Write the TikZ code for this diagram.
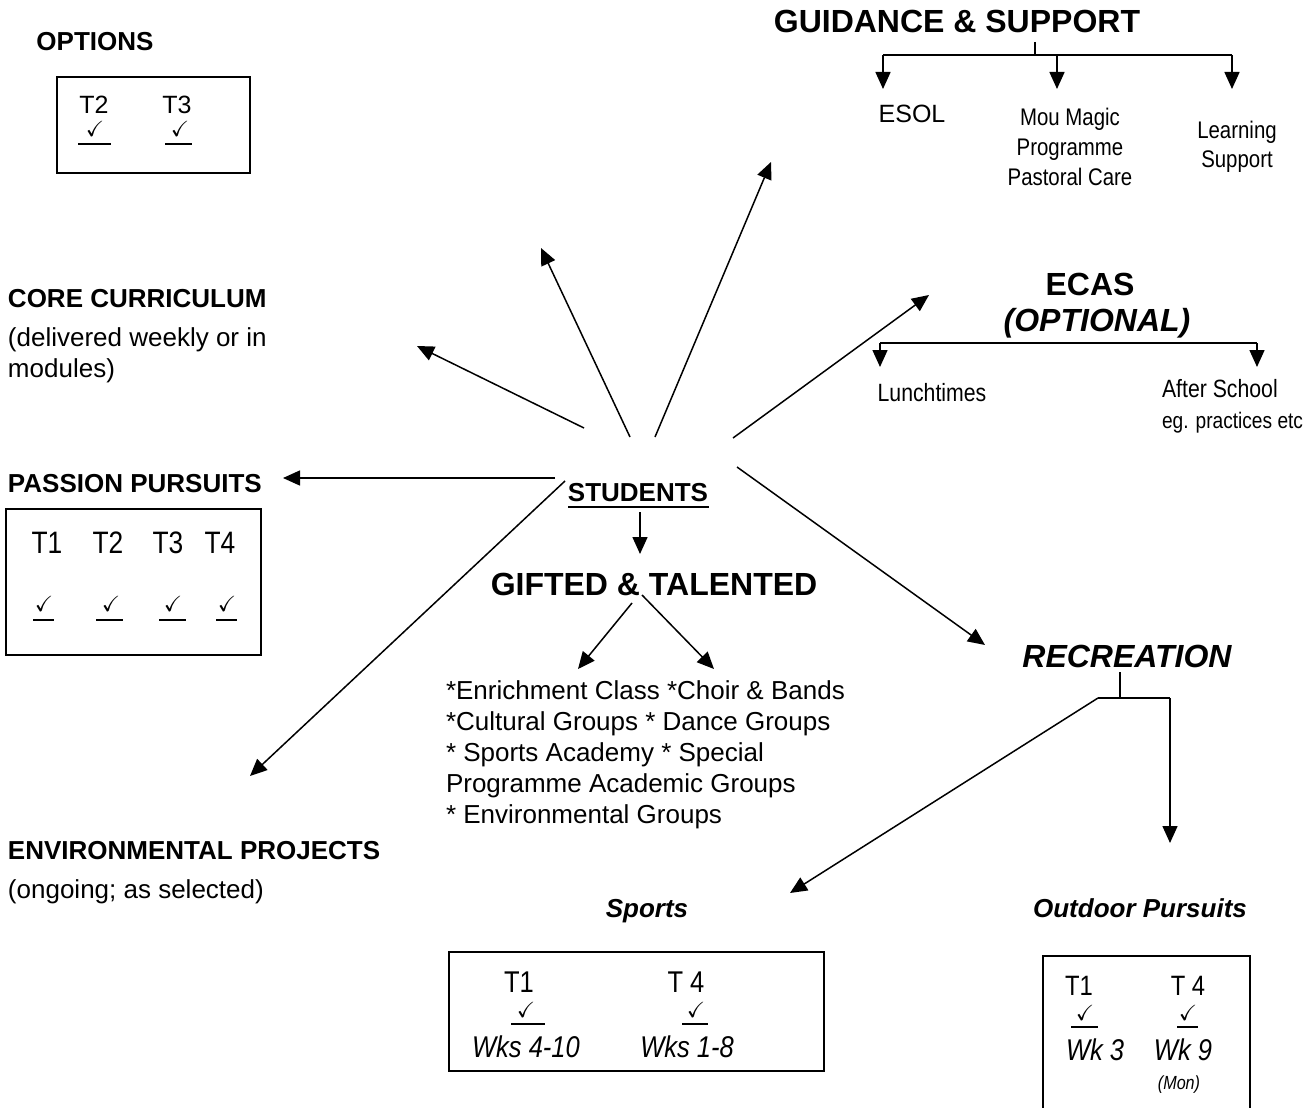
\documentclass[tikz,border=0pt]{standalone}
\usepackage{fontspec}
\usepackage{amssymb}
\setmainfont{Liberation Sans}
\newfontfamily\nar[FakeStretch=0.85]{Liberation Sans}
\usetikzlibrary{arrows.meta}
\newcommand\fsz[2]{\fontsize{#1}{#2}\selectfont}
\tikzset{
  lbl/.style={inner sep=0pt, outer sep=0pt},
  head/.style={lbl, font=\fsz{26}{31}\bfseries},
  bighead/.style={lbl, font=\fsz{32}{38}\bfseries},
  body/.style={lbl, font=\fsz{26}{31}, align=left},
  nbody/.style={lbl, font=\nar\fsz{24}{30}},
  tterm/.style={lbl, font=\nar\fsz{30}{36}},
  chk/.style={lbl, font=\fsz{22}{22}},
  conn/.style={line width=1.5pt, -{Triangle[length=17pt,width=15pt]}},
  plain/.style={line width=1.5pt},
  boxnode/.style={draw, line width=1.5pt, inner sep=0pt},
  uline/.style={line width=2pt},
}
\begin{document}
\begin{tikzpicture}[x=1pt,y=-1pt]
\clip (0,0) rectangle (1304,1108);
\fill[white] (0,0) rectangle (1304,1108);

% ---------- OPTIONS ----------
\node[head, anchor=base] (opt) at (95,51) {OPTIONS};
\node[boxnode, minimum width=193pt, minimum height=96pt] (optbox) at (153.5,125) {};
\node[lbl, font=\fsz{25}{30}, anchor=base] (optT2) at (94,113) {T2};
\node[lbl, font=\fsz{25}{30}, anchor=base] (optT3) at (177,113) {T3};
\node[chk] (optc2) at (95,129) {$\checkmark$};
\node[chk] (optc3) at (180,129) {$\checkmark$};
\draw[uline] (78,144) -- (111,144);
\draw[uline] (165,144) -- (192,144);

% ---------- GUIDANCE & SUPPORT ----------
\node[bighead, anchor=base] (guid) at (957,33) {GUIDANCE \& SUPPORT};
\coordinate (gstem) at (1035,42);
\coordinate (gj) at (1035,55);
\coordinate (gl) at (883,55);
\coordinate (gm) at (1057,55);
\coordinate (gr) at (1232,55);
\node[lbl, font=\fsz{25}{30}, anchor=base] (esol) at (912,122) {ESOL};
\node[nbody, align=center, anchor=base] (mou) at (1070,185) {Mou Magic\\Programme\\Pastoral Care};
\node[nbody, font=\nar\fsz{24}{29}, align=center, anchor=base] (learn) at (1237,167) {Learning\\Support};
\coordinate (esolt) at (883,89);
\coordinate (mout) at (1057,89);
\coordinate (learnt) at (1232,89);
\draw[plain] (gstem) -- (gj);
\draw[plain] (gl) -- (gr);
\draw[conn] (gl) -- (esolt);
\draw[conn] (gm) -- (mout);
\draw[conn] (gr) -- (learnt);

% ---------- CORE CURRICULUM ----------
\node[head, anchor=base west] (core) at (8,307) {CORE CURRICULUM};
\node[body, anchor=base west] (corex) at (8,377) {(delivered weekly or in\\modules)};

% ---------- ECAS ----------
\node[bighead, anchor=base] (ecas) at (1090,295) {ECAS};
\node[bighead, anchor=base, font=\fsz{32}{38}\bfseries\itshape] (ecasopt) at (1097,331) {(OPTIONAL)};
\coordinate (el) at (880,343);
\coordinate (er) at (1257,343);
\coordinate (elt) at (880,367);
\coordinate (ert) at (1257,367);
\draw[plain] (el) -- (er);
\draw[conn] (el) -- (elt);
\draw[conn] (er) -- (ert);
\node[nbody, font=\nar\fsz{25}{30}, anchor=base] (lunch) at (932,401) {Lunchtimes};
\node[nbody, font=\nar\fsz{25}{31}, align=left, anchor=base west] (after) at (1162,428) {After School\\{\fsz{22.5}{31}eg. practices etc}};

% ---------- PASSION PURSUITS ----------
\node[head, anchor=base west] (pass) at (8,492) {PASSION PURSUITS};
\node[boxnode, minimum width=255pt, minimum height=146pt] (passbox) at (133.5,582) {};
\node[tterm, font=\nar\fsz{31}{36}, anchor=base] (pT1) at (47,553) {T1};
\node[tterm, font=\nar\fsz{31}{36}, anchor=base] (pT2) at (108,553) {T2};
\node[tterm, font=\nar\fsz{31}{36}, anchor=base] (pT3) at (168,553) {T3};
\node[tterm, font=\nar\fsz{31}{36}, anchor=base] (pT4) at (220,553) {T4};
\node[chk] (pc1) at (44,604) {$\checkmark$};
\node[chk] (pc2) at (111,604) {$\checkmark$};
\node[chk] (pc3) at (173,604) {$\checkmark$};
\node[chk] (pc4) at (227,604) {$\checkmark$};
\draw[uline] (33,620) -- (54,620);
\draw[uline] (96,620) -- (123,620);
\draw[uline] (159,620) -- (186,620);
\draw[uline] (216,620) -- (237,620);

% ---------- STUDENTS ----------
\node[head, anchor=base] (stud) at (638,501) {STUDENTS};
\draw[line width=2.5pt] (568,507) -- (709,507);

\coordinate (s1) at (630,437);  \coordinate (t1) at (541,248);
\coordinate (s2) at (655,437);  \coordinate (t2) at (771,162);
\coordinate (s3) at (733,438);  \coordinate (t3) at (929,295);
\coordinate (s4) at (584,428);  \coordinate (t4) at (417,346);
\coordinate (s5) at (555,478);  \coordinate (t5) at (283,478);
\coordinate (s6) at (565,481);  \coordinate (t6) at (250,776);
\coordinate (s7) at (737,467);  \coordinate (t7) at (985,645);
\draw[conn] (s1) -- (t1);
\draw[conn] (s2) -- (t2);
\draw[conn] (s3) -- (t3);
\draw[conn] (s4) -- (t4);
\draw[conn] (s5) -- (t5);
\draw[conn] (s6) -- (t6);
\draw[conn] (s7) -- (t7);

% ---------- GIFTED & TALENTED ----------
\node[bighead, anchor=base] (gt) at (654,595) {GIFTED \& TALENTED};
\coordinate (s8) at (640,512); \coordinate (t8) at (640,554);
\draw[conn] (s8) -- (t8);
\coordinate (g1) at (632,603); \coordinate (g1t) at (578,669);
\coordinate (g2) at (642,595); \coordinate (g2t) at (714,669);
\draw[conn] (g1) -- (g1t);
\draw[conn] (g2) -- (g2t);
\node[body, anchor=base west] (gtlist) at (446,823) {*Enrichment Class *Choir \& Bands\\*Cultural Groups * Dance Groups\\* Sports Academy * Special\\Programme Academic Groups\\* Environmental Groups};

% ---------- ENVIRONMENTAL PROJECTS ----------
\node[head, anchor=base west] (env) at (8,859) {ENVIRONMENTAL PROJECTS};
\node[body, anchor=base west] (envx) at (8,898) {(ongoing; as selected)};

% ---------- RECREATION ----------
\node[bighead, anchor=base, font=\fsz{32}{38}\bfseries\itshape] (rec) at (1127,667) {RECREATION};
\coordinate (rstem) at (1120,672);
\coordinate (rj) at (1120,698);
\coordinate (rl) at (1098,698);
\coordinate (rr) at (1170,698);
\coordinate (rrt) at (1170,843);
\coordinate (rlt) at (790,893);
\draw[plain] (rstem) -- (rj);
\draw[plain] (rl) -- (rr);
\draw[conn] (rr) -- (rrt);
\draw[conn] (rl) -- (rlt);

% ---------- Sports ----------
\node[head, font=\fsz{26}{31}\bfseries\itshape, anchor=base] (sports) at (647,917) {Sports};
\node[boxnode, minimum width=375pt, minimum height=119pt] (sportbox) at (636.5,1011.5) {};
\node[tterm, anchor=base] (sT1) at (519,992) {T1};
\node[tterm, anchor=base] (sT4) at (686,992) {T 4};
\node[chk] (sc1) at (526,1010) {$\checkmark$};
\node[chk] (sc4) at (696,1010) {$\checkmark$};
\draw[uline] (511,1024) -- (545,1024);
\draw[uline] (682,1024) -- (708,1024);
\node[tterm, font=\nar\itshape\fsz{30}{36}, anchor=base] (sW1) at (526,1057) {Wks 4-10};
\node[tterm, font=\nar\itshape\fsz{30}{36}, anchor=base] (sW4) at (687,1057) {Wks 1-8};

% ---------- Outdoor Pursuits ----------
\node[head, font=\fsz{26}{31}\bfseries\itshape, anchor=base] (outd) at (1140,917) {Outdoor Pursuits};
\node[boxnode, minimum width=207pt, minimum height=174pt] (outbox) at (1146.5,1043) {};
\node[tterm, font=\nar\fsz{28}{34}, anchor=base] (oT1) at (1079,995) {T1};
\node[tterm, font=\nar\fsz{28}{34}, anchor=base] (oT4) at (1188,995) {T 4};
\node[chk] (oc1) at (1085,1013) {$\checkmark$};
\node[chk] (oc4) at (1188,1013) {$\checkmark$};
\draw[uline] (1071,1027) -- (1098,1027);
\draw[uline] (1177,1027) -- (1198,1027);
\node[tterm, font=\nar\itshape\fsz{30}{36}, anchor=base west] (oW1) at (1066,1060) {Wk 3};
\node[tterm, font=\nar\itshape\fsz{30}{36}, anchor=base] (oW4) at (1183,1060) {Wk 9};
\node[lbl, font=\nar\itshape\fsz{19}{22}, anchor=base] (omon) at (1179,1089) {(Mon)};
\end{tikzpicture}
\end{document}
